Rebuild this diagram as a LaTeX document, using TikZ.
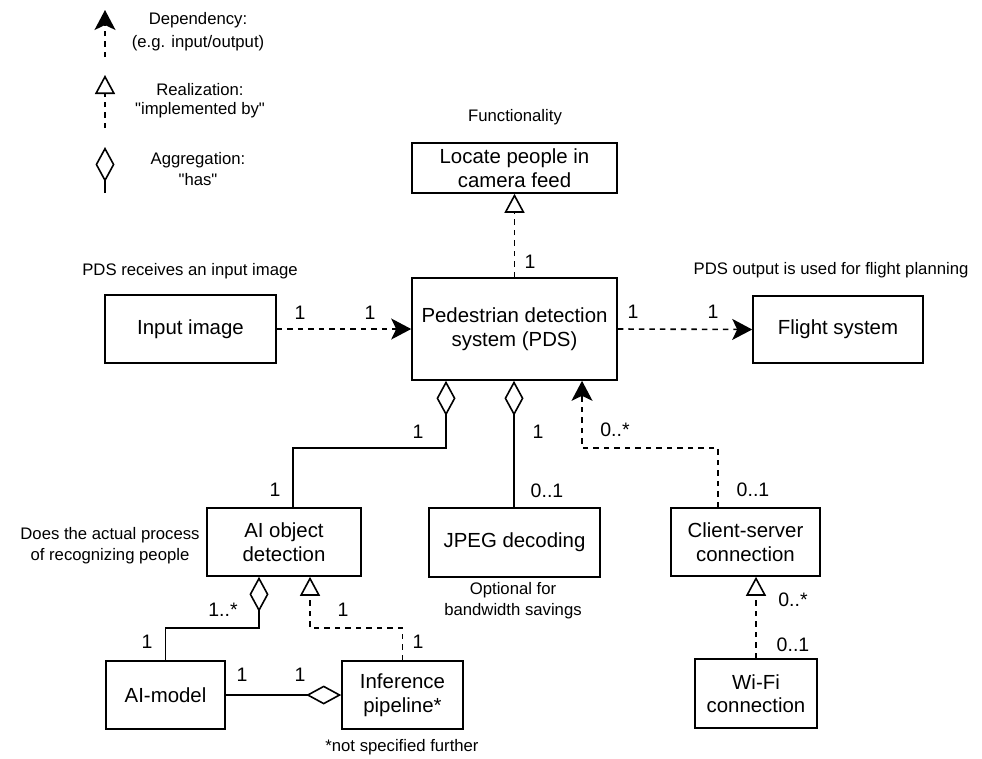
\documentclass[tikz,border=0pt]{standalone}
\usepackage{fontspec}
\setmainfont{Liberation Sans}[Ligatures=TeXOff]
\usetikzlibrary{arrows.meta}

\tikzset{
  box/.style={draw, rectangle, line width=1.6pt, align=center, inner sep=0pt,
    font=\fontsize{20.4}{23.5}\selectfont},
  note/.style={align=center, inner sep=0pt, font=\fontsize{16.7}{20.5}\selectfont},
  mult/.style={inner sep=0pt, font=\fontsize{19.5}{23}\selectfont},
  conn/.style={line width=1.6pt, line join=miter},
  dashline/.style={conn, dash pattern=on 5.5pt off 5pt},
  depline/.style={dashline, -{Stealth[length=20pt, width=21pt, inset=5pt]}},
  realline/.style={dashline, -{Triangle[length=19pt, width=20pt, fill=white]}},
  aggline/.style={conn, -{Diamond[length=35pt, width=19pt, fill=white]}},
}

\begin{document}
\begin{tikzpicture}[x=1pt, y=-1pt]
\useasboundingbox (0,0) rectangle (982,758);

% ---- legend ----
\coordinate (depA) at (105,57);  \coordinate (depB) at (105,10);
\coordinate (relA) at (105,128); \coordinate (relB) at (105,75);
\coordinate (aggA) at (105,193); \coordinate (aggB) at (105,147);
\draw[depline] (depA) -- (depB);
\draw[realline] (relA) -- (relB);
\draw[aggline] (aggA) -- (aggB);
\node[note] (legdep1) at (198,20) {Dependency:};
\node[note] (legdep2) at (198,43) {(e.g. input/output)};
\node[note] (legrel1) at (200,90) {Realization:};
\node[note] (legrel2) at (200,110) {"implemented by"};
\node[note] (legagg1) at (198,160) {Aggregation:};
\node[note] (legagg2) at (198,180) {"has"};

% ---- boxes ----
\node[box, minimum width=205pt, minimum height=50pt] (loc) at (514.5,168)
  {Locate people in\\camera feed};
\node[box, minimum width=205pt, minimum height=102pt] (pds) at (514.5,329)
  {Pedestrian detection\\system (PDS)};
\node[box, minimum width=171pt, minimum height=68pt] (inp) at (190.5,329) {Input image};
\node[box, minimum width=170pt, minimum height=67pt] (flt) at (838,329.5) {Flight system};
\node[box, minimum width=154pt, minimum height=68pt] (aod) at (284,542)
  {AI object\\detection};
\node[box, minimum width=171pt, minimum height=69pt] (jpg) at (514.5,542.5) {JPEG decoding};
\node[box, minimum width=149pt, minimum height=68pt] (csc) at (745.5,542)
  {Client-server\\connection};
\node[box, minimum width=122pt, minimum height=69pt] (wifi) at (756,693.5)
  {Wi-Fi\\connection};
\node[box, minimum width=119pt, minimum height=68pt] (aim) at (165.5,695)
  {AI-model};
\node[box, minimum width=121pt, minimum height=68pt] (inf) at (402.5,695)
  {Inference\\pipeline*};

% ---- annotations ----
\node[note] (nfun) at (515,117) {Functionality};
\node[note] (nin) at (190,271) {PDS receives an input image};
\node[note] (nout) at (831,270) {PDS output is used for flight planning};
\node[note] (nproc) at (110,545.5) {Does the actual process\\of recognizing people};
\node[note] (nopt) at (513,600.5) {Optional for\\bandwidth savings};
\node[note] (nspec) at (402,747) {*not specified further};

% ---- connectors ----
\draw[depline] (inp.east) -- (pds.west);
\node[mult] at (300,313) {1};
\node[mult] at (370,313) {1};

\draw[depline] (pds.east) -- (flt.west);
\node[mult] at (633,312) {1};
\node[mult] at (713,312) {1};

\draw[realline] (pds.north) -- (loc.south);
\node[mult] at (530,262) {1};

\draw[aggline] (aod.north -| 293,0) |- (446,448) -- (pds.south -| 446,0);
\node[mult] at (418,432) {1};
\node[mult] at (275,490) {1};

\draw[aggline] (jpg.north -| 514,0) -- (pds.south -| 514,0);
\node[mult] at (538,432) {1};
\node[mult] at (547,491) {0..1};

\draw[depline] (csc.north -| 718,0) |- (582,448) -- (pds.south -| 582,0);
\node[mult] at (615,430) {0..*};
\node[mult] at (753,490) {0..1};

\draw[realline] (wifi.north) -- (wifi.north |- csc.south);
\node[mult] at (793,600) {0..*};
\node[mult] at (793,645) {0..1};

\draw[aggline] (aim.north) |- (259,628) -- (aod.south -| 259,0);
\node[mult] at (223,610) {1..*};
\node[mult] at (147,642) {1};

\draw[realline] (inf.north) |- (310,628) -- (aod.south -| 310,0);
\node[mult] at (343,610) {1};
\node[mult] at (418,642) {1};

\draw[aggline] (aim.east) -- (inf.west);
\node[mult] at (242,675) {1};
\node[mult] at (300,675) {1};
\end{tikzpicture}
\end{document}
